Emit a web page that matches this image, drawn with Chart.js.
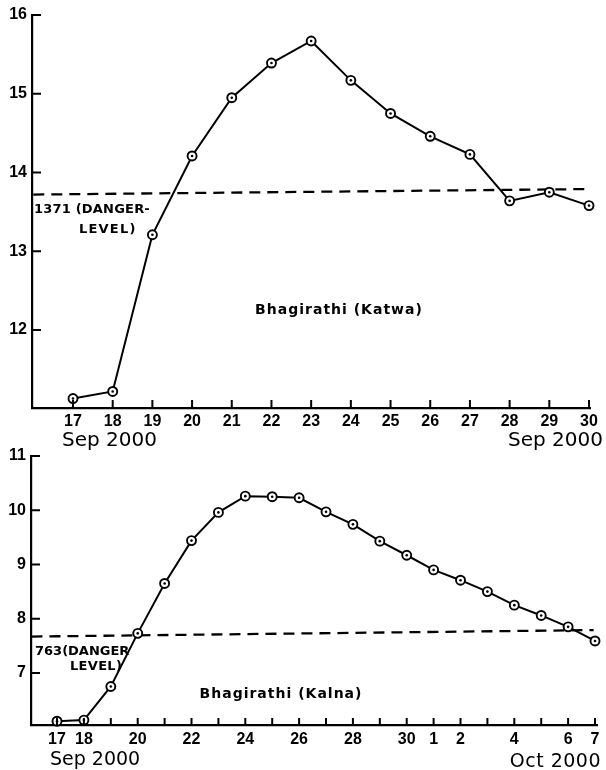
<!DOCTYPE html>
<html>
<head>
<meta charset="utf-8">
<script src="https://cdn.jsdelivr.net/npm/chart.js@4.4.0/dist/chart.umd.min.js"></script>
<style>
html,body{margin:0;padding:0;background:#fff;}
#wrap{position:relative;width:606px;height:770px;overflow:hidden;}
canvas{position:absolute;left:0;top:0;}
</style>
</head>
<body>
<div id="wrap">
<canvas id="katwa" width="606" height="770"></canvas>
<canvas id="kalna" width="606" height="770"></canvas>
</div>
<script>
// ---------- Data: Bhagirathi (Katwa) ----------
const katwaDays   = [17, 18, 19, 20, 21, 22, 23, 24, 25, 26, 27, 28, 29, 30];
const katwaLevels = [11.13, 11.22, 13.21, 14.21, 14.95, 15.39, 15.67, 15.17, 14.75, 14.46, 14.23, 13.64, 13.75, 13.58];
const katwaDangerX = [16.0, 30.0];
const katwaDangerY = [13.72, 13.79];
const katwaYTicks = [12, 13, 14, 15, 16];
const katwaXTicks = [17, 18, 19, 20, 21, 22, 23, 24, 25, 26, 27, 28, 29, 30];

// ---------- Data: Bhagirathi (Kalna) ----------
const kalnaDates  = ['17','18','19','20','21','22','23','24','25','26','27','28','29','30','1','2','3','4','5','6','7'];
const kalnaLevels = [6.11, 6.13, 6.75, 7.73, 8.65, 9.44, 9.96, 10.26, 10.25, 10.23, 9.97, 9.74, 9.43, 9.17, 8.90, 8.71, 8.50, 8.25, 8.06, 7.85, 7.59];
const kalnaDangerX = [-0.95, 19.95];
const kalnaDangerY = [7.67, 7.79];
const kalnaYTicks = [7, 8, 9, 10, 11];
const kalnaXLabels = ['17','18','20','22','24','26','28','30','1','2','4','6','7'];

// ---------- helpers ----------
const TICK_FONT = {family: "'Liberation Sans Narrow', 'Liberation Sans', sans-serif", size: 16, weight: 'bold'};

function innerTicks(lenX, lenY) {
  return {
    id: 'innerTicks',
    afterDraw(chart) {
      const {ctx, chartArea: a, scales: {x, y}} = chart;
      ctx.save();
      ctx.strokeStyle = '#000';
      ctx.lineWidth = 2;
      ctx.beginPath();
      x.ticks.forEach(t => {
        const px = x.getPixelForValue(t.value);
        ctx.moveTo(px, a.bottom);
        ctx.lineTo(px, a.bottom - lenX);
      });
      y.ticks.forEach(t => {
        const py = y.getPixelForValue(t.value);
        ctx.moveTo(a.left, py);
        ctx.lineTo(a.left + lenY, py);
      });
      ctx.stroke();
      ctx.restore();
    }
  };
}

function textLayer(items) {
  return {
    id: 'textLayer',
    afterDraw(chart) {
      const ctx = chart.ctx;
      ctx.save();
      ctx.fillStyle = '#000';
      ctx.textBaseline = 'alphabetic';
      items.forEach(it => {
        ctx.font = it.font;
        ctx.textAlign = it.align || 'left';
        ctx.letterSpacing = (it.ls || 0) + 'px';
        ctx.fillText(it.text, it.x, it.y);
      });
      ctx.restore();
    }
  };
}

function seriesDatasets(points, danger) {
  return [
    {
      data: points,
      borderColor: '#000',
      borderWidth: 2,
      pointRadius: 4.5,
      pointBorderWidth: 1.9,
      pointBackgroundColor: '#fff',
      pointBorderColor: '#000',
      tension: 0,
      clip: false,
      order: 2
    },
    {
      data: points,
      showLine: false,
      pointRadius: 1.3,
      pointBorderWidth: 0,
      pointBackgroundColor: '#000',
      clip: false,
      order: 1
    },
    {
      data: danger,
      borderColor: '#000',
      borderWidth: 2.3,
      borderDash: [11, 7],
      pointRadius: 0,
      clip: false,
      order: 3
    }
  ];
}

function baseOptions(o) {
  return {
    responsive: false,
    animation: false,
    events: [],
    layout: {padding: o.padding},
    plugins: {legend: {display: false}, tooltip: {enabled: false}, title: {display: false}},
    scales: {
      x: {
        type: 'linear',
        bounds: 'data',
        min: o.xMin, max: o.xMax,
        afterFit(s) { s.height = o.xHeight; },
        afterBuildTicks(s) { s.ticks = o.xTicks.map(v => ({value: v})); },
        grid: {display: false, drawTicks: false},
        border: {display: true, color: '#000', width: 2.2},
        ticks: {
          autoSkip: false, maxRotation: 0, minRotation: 0,
          padding: o.xPad, color: '#000', font: TICK_FONT,
          callback: o.xLabel
        }
      },
      y: {
        type: 'linear',
        bounds: 'data',
        min: o.yMin, max: o.yMax,
        afterFit(s) { s.width = o.yWidth; },
        afterBuildTicks(s) { s.ticks = o.yTicks.map(v => ({value: v})); },
        grid: {display: false, drawTicks: false},
        border: {display: true, color: '#000', width: 2.2},
        ticks: {padding: 5, color: '#000', font: TICK_FONT, callback: v => String(v)}
      }
    }
  };
}

// ---------- Katwa chart ----------
const katwaPoints = katwaDays.map((d, i) => ({x: d, y: katwaLevels[i]}));
const katwaDanger = katwaDangerX.map((d, i) => ({x: d, y: katwaDangerY[i]}));

new Chart(document.getElementById('katwa'), {
  type: 'line',
  data: {datasets: seriesDatasets(katwaPoints, katwaDanger)},
  options: baseOptions({
    padding: {top: 15, right: 16, left: 0, bottom: 0},
    xMin: 15.967, xMax: 30.025, xHeight: 362, xTicks: katwaXTicks, xPad: 4,
    xLabel: v => String(v),
    yMin: 11.01, yMax: 16, yWidth: 32, yTicks: katwaYTicks
  }),
  plugins: [
    innerTicks(8, 9),
    textLayer([
      {text: 'Sep 2000', x: 62, y: 446, font: "20px 'DejaVu Sans'", align: 'left'},
      {text: 'Sep 2000', x: 603, y: 446, font: "20px 'DejaVu Sans'", align: 'right'},
      {text: '1371 (DANGER-', x: 34, y: 213, font: "bold 13px 'DejaVu Sans'", ls: 0.2},
      {text: 'LEVEL)', x: 79, y: 233, font: "bold 13px 'DejaVu Sans'", ls: 1.2},
      {text: 'Bhagirathi (Katwa)', x: 339, y: 314, font: "bold 14px 'DejaVu Sans'", align: 'center', ls: 1}
    ])
  ]
});

// ---------- Kalna chart ----------
const kalnaIdx = kalnaDates.map((d, i) => i);
const kalnaPoints = kalnaIdx.map(i => ({x: i, y: kalnaLevels[i]}));
const kalnaDanger = kalnaDangerX.map((d, i) => ({x: d, y: kalnaDangerY[i]}));

new Chart(document.getElementById('kalna'), {
  type: 'line',
  data: {datasets: seriesDatasets(kalnaPoints, kalnaDanger)},
  options: baseOptions({
    padding: {top: 456, right: 9, left: 0, bottom: 0},
    xMin: -0.967, xMax: 20.074, xHeight: 45, xTicks: kalnaIdx, xPad: 5,
    xLabel: v => {
      const lab = kalnaDates[Math.round(v)];
      return kalnaXLabels.includes(lab) ? lab : '';
    },
    yMin: 6.04, yMax: 11, yWidth: 31, yTicks: kalnaYTicks
  }),
  plugins: [
    innerTicks(7, 9),
    textLayer([
      {text: 'Sep 2000', x: 50, y: 765, font: "19px 'DejaVu Sans'", align: 'left'},
      {text: 'Oct 2000', x: 601, y: 767, font: "19px 'DejaVu Sans'", align: 'right', ls: 0.5},
      {text: '763(DANGER', x: 35, y: 655, font: "bold 13px 'DejaVu Sans'"},
      {text: 'LEVEL)', x: 70, y: 670, font: "bold 13px 'DejaVu Sans'", ls: 0.3},
      {text: 'Bhagirathi (Kalna)', x: 281, y: 698, font: "bold 14px 'DejaVu Sans'", align: 'center', ls: 1}
    ])
  ]
});
</script>
</body>
</html>
